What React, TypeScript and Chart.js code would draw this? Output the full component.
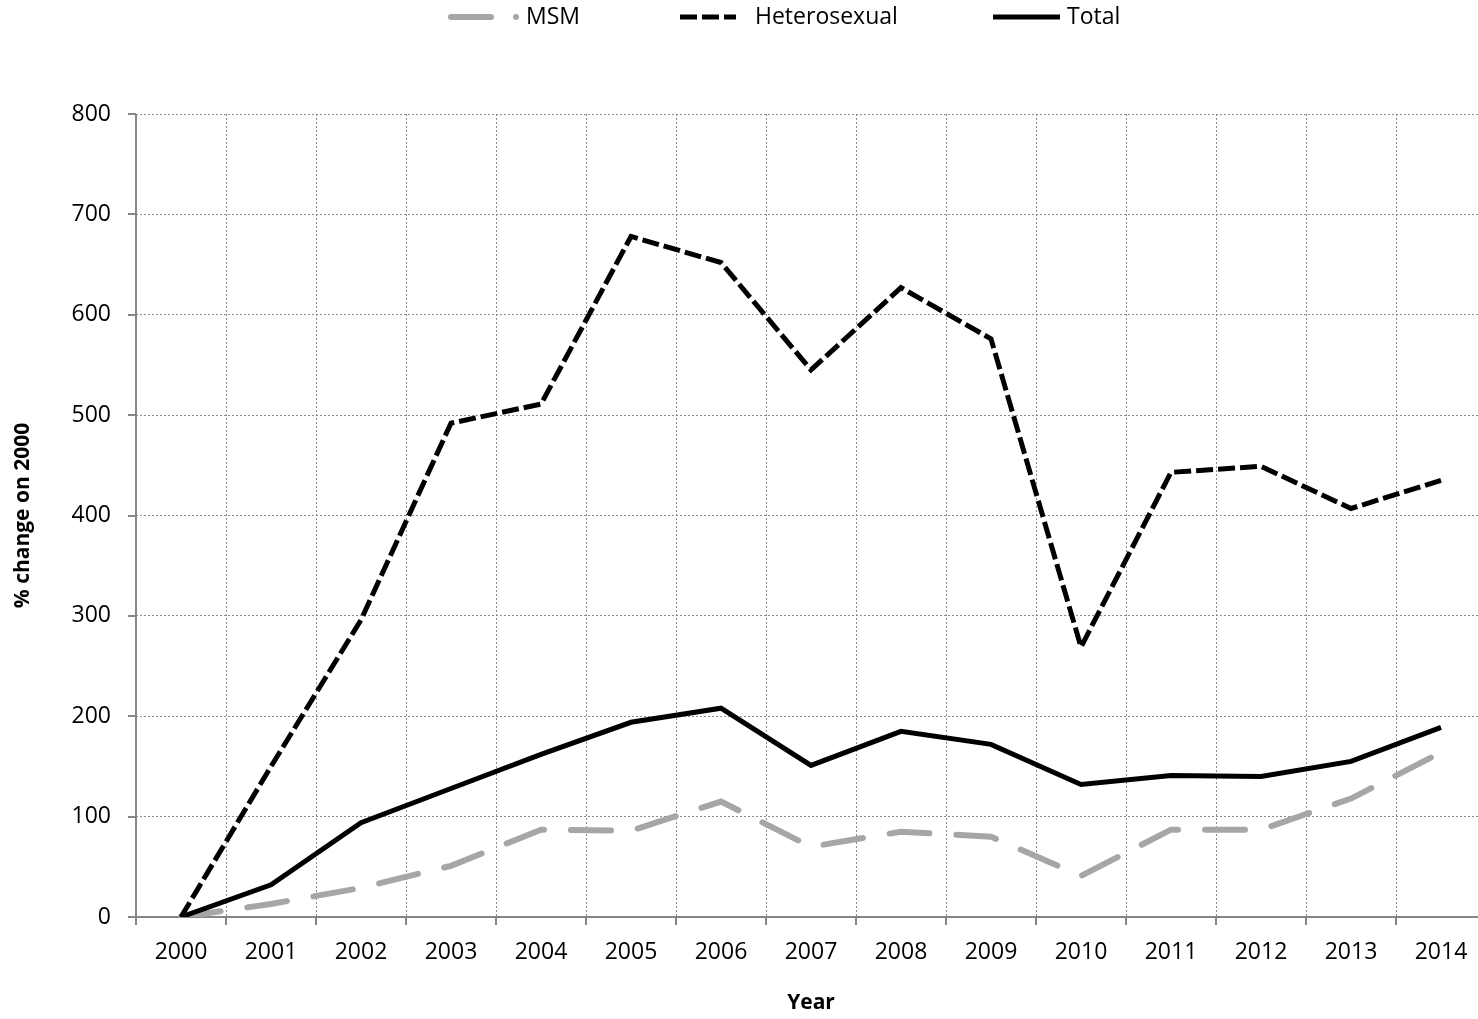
import React, { useEffect, useRef } from "react";
import { Chart, registerables } from "chart.js";

Chart.register(...registerables);

const years = ["2000","2001","2002","2003","2004","2005","2006","2007","2008","2009","2010","2011","2012","2013","2014"];
const msm = [0, 13, 29, 51, 87, 86, 115, 70, 85, 80, 41, 87, 87, 118, 164];
const heterosexual = [0, 150, 296, 492, 511, 678, 652, 545, 627, 576, 269, 443, 449, 407, 435];
const total = [0, 32, 94, 128, 162, 194, 208, 151, 185, 172, 132, 141, 140, 155, 189];
const yTicksMax = 800;
const yStep = 100;

const FONT = "'Open Sans', 'Noto Sans', sans-serif";
const AXIS_GRAY = "#868686";

const legendPlugin = {
  id: "customLegend",
  afterDraw(chart: any) {
    const ctx = chart.ctx;
    const ds = chart.data.datasets;
    const y = 17;
    ctx.save();
    // MSM
    ctx.strokeStyle = "#a6a6a6";
    ctx.lineWidth = 6;
    ctx.lineCap = "round";
    ctx.beginPath();
    ctx.moveTo(451, y);
    ctx.lineTo(491, y);
    ctx.stroke();
    ctx.fillStyle = "#a6a6a6";
    ctx.beginPath();
    ctx.arc(516, y, 3, 0, Math.PI * 2);
    ctx.fill();
    // Heterosexual
    ctx.strokeStyle = "#000";
    ctx.lineCap = "butt";
    ctx.lineWidth = 5;
    ctx.setLineDash([17, 5]);
    ctx.beginPath();
    ctx.moveTo(680, y);
    ctx.lineTo(736, y);
    ctx.stroke();
    ctx.setLineDash([]);
    // Total
    ctx.lineWidth = 5;
    ctx.beginPath();
    ctx.moveTo(993, y);
    ctx.lineTo(1060, y);
    ctx.stroke();
    // Text
    ctx.fillStyle = "#000";
    ctx.font = `23px ${FONT}`;
    ctx.textBaseline = "middle";
    ctx.textAlign = "left";
    ctx.fillText(ds[0].label, 526, y);
    ctx.fillText(ds[1].label, 755, y);
    ctx.fillText(ds[2].label, 1067, y);
    ctx.restore();
  },
};

const axesPlugin = {
  id: "solidAxes",
  beforeDatasetsDraw(chart: any) {
    const ctx = chart.ctx;
    const { left, right, top, bottom } = chart.chartArea;
    const xs = chart.scales.x;
    const ys = chart.scales.y;
    ctx.save();
    ctx.strokeStyle = AXIS_GRAY;
    ctx.lineWidth = 2;
    ctx.beginPath();
    ctx.moveTo(left, top);
    ctx.lineTo(left, bottom + 8);
    ctx.moveTo(left - 8, bottom);
    ctx.lineTo(right, bottom);
    ys.ticks.forEach((_t: any, i: number) => {
      const py = Math.round(ys.getPixelForTick(i));
      ctx.moveTo(left - 8, py);
      ctx.lineTo(left, py);
    });
    const n = xs.ticks.length;
    for (let i = 0; i <= n; i++) {
      const px = Math.round(left + (i * (right - left)) / n);
      ctx.moveTo(px, bottom);
      ctx.lineTo(px, bottom + 8);
    }
    ctx.stroke();
    ctx.restore();
  },
};

export default function App() {
  const ref = useRef<HTMLCanvasElement | null>(null);
  useEffect(() => {
    document.body.style.overflow = "hidden";
    const canvas = ref.current!;
    const chart = new Chart(canvas, {
      type: "line",
      data: {
        labels: years,
        datasets: [
          {
            label: "MSM",
            data: msm,
            borderColor: "#a6a6a6",
            borderWidth: 6,
            borderDash: [40, 27],
            borderCapStyle: "round",
            pointRadius: 0,
            tension: 0,
            order: 3,
          },
          {
            label: "Heterosexual",
            data: heterosexual,
            borderColor: "#000000",
            borderWidth: 5,
            borderDash: [17, 5],
            pointRadius: 0,
            tension: 0,
            order: 2,
          },
          {
            label: "Total",
            data: total,
            borderColor: "#000000",
            borderWidth: 5,
            pointRadius: 0,
            tension: 0,
            order: 1,
          },
        ],
      },
      options: {
        responsive: false,
        animation: false,
        layout: { padding: { top: 114, right: 14, left: 0, bottom: 0 } },
        plugins: {
          legend: { display: false },
          tooltip: { enabled: false },
        },
        scales: {
          x: {
            type: "category",
            offset: true,
            grid: {
              offset: true,
              color: "#8c8c8c",
              lineWidth: 1,
              drawTicks: false,
            },
            border: { display: false, dash: [2, 2] },
            ticks: {
              color: "#000",
              font: { family: FONT, size: 23 },
              padding: 22,
              maxRotation: 0,
              autoSkip: false,
            },
            title: {
              display: true,
              text: "Year",
              color: "#000",
              font: { family: FONT, size: 21, weight: "bold" },
              padding: { top: 0, bottom: 3 },
            },
            afterFit: (s: any) => {
              s.height = 102;
            },
          },
          y: {
            min: 0,
            max: yTicksMax,
            ticks: {
              stepSize: yStep,
              color: "#000",
              font: { family: FONT, size: 23 },
              padding: 25,
            },
            grid: {
              color: "#8c8c8c",
              lineWidth: 1,
              drawTicks: false,
            },
            border: { display: false, dash: [2, 2] },
            title: {
              display: true,
              text: "% change on 2000",
              color: "#000",
              font: { family: FONT, size: 21, weight: "bold" },
              padding: { top: 10, bottom: 0 },
            },
            afterFit: (s: any) => {
              s.width = 136;
            },
          },
        },
      },
      plugins: [axesPlugin, legendPlugin],
    });
    return () => chart.destroy();
  }, []);
  return (
    <div style={{ position: "absolute", left: 0, top: 0, width: 1500, height: 1019, background: "#fff" }}>
      <canvas ref={ref} width={1500} height={1019} style={{ display: "block" }} />
    </div>
  );
}
